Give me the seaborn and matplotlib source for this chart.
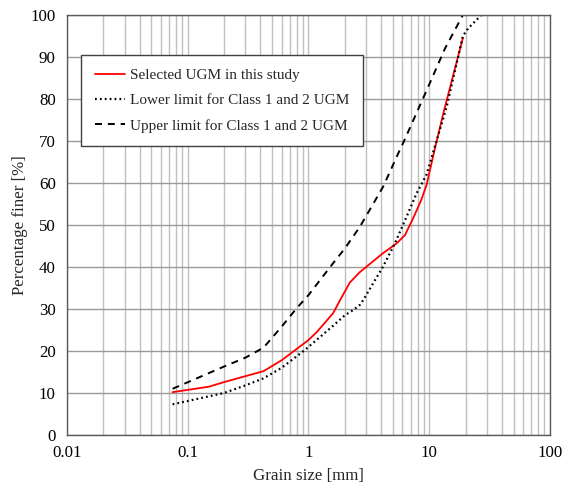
import matplotlib
matplotlib.use("Agg")
import matplotlib.pyplot as plt
import matplotlib.ticker as mticker
import numpy as np
import seaborn as sns

# Grain size distributions (grain size in mm, percentage finer in %)
ugm_size = [0.075, 0.15, 0.2, 0.3, 0.425, 0.6, 1.0, 1.18, 1.6, 1.82, 2.2, 2.67,
            3.03, 4.15, 5.36, 6.3, 7.36, 8.6, 9.5, 11.1, 13.2, 19.0]
ugm_pass = [10.2, 11.5, 12.6, 14.0, 15.2, 17.8, 22.6, 24.6, 29.0, 32.0, 36.3, 38.8,
            40.1, 43.3, 45.6, 47.6, 51.6, 56.0, 59.5, 68.0, 77.0, 94.5]

lower_size = [0.075, 0.2, 0.3, 0.425, 0.6, 0.93, 1.6, 2.0, 2.36, 2.67, 2.84, 3.43,
              4.15, 5.19, 6.5, 7.85, 9.5, 13.9, 19.0, 21.0, 24.0, 27.0]
lower_pass = [7.3, 10.0, 11.8, 13.5, 16.0, 20.2, 26.0, 28.5, 29.8, 31.0, 32.1, 36.1,
              40.1, 45.6, 52.0, 57.5, 62.0, 78.0, 95.0, 96.8, 98.5, 100.0]

upper_size = [0.075, 0.2, 0.3, 0.425, 0.6, 0.8, 1.0, 1.6, 2.0, 2.67, 4.15, 5.53,
              6.08, 9.5, 13.5, 19.0]
upper_pass = [11.0, 16.3, 18.4, 20.8, 25.8, 30.2, 33.3, 40.9, 44.4, 49.6, 59.1, 67.0,
              69.5, 82.0, 92.0, 100.0]

series_names = ["Selected UGM in this study",
                "Lower limit for Class 1 and 2 UGM",
                "Upper limit for Class 1 and 2 UGM"]

x_ticks = [0.01, 0.1, 1, 10, 100]
x_tick_labels = ["0.01", "0.1", "1", "10", "100"]
y_ticks = list(range(0, 101, 10))

sns.set_theme(style="white")
plt.rcParams["font.family"] = ["Liberation Serif", "DejaVu Serif"]

fig = plt.figure(figsize=(5.67, 4.88), dpi=100)
ax = fig.add_axes([0.118, 0.1086, 0.852, 0.8607])

# log grid: light verticals at every subdivision, darker horizontals
ax.set_xscale("log")
ax.set_xlim(0.01, 100)
ax.set_ylim(0, 100)
ax.xaxis.set_major_locator(mticker.FixedLocator(x_ticks))
ax.xaxis.set_major_formatter(mticker.FixedFormatter(x_tick_labels))
ax.xaxis.set_minor_locator(mticker.LogLocator(base=10, subs=np.arange(2, 10)))
ax.xaxis.set_minor_formatter(mticker.NullFormatter())
ax.set_yticks(y_ticks)
ax.grid(True, which="major", axis="x", color="#c0c0c0", linewidth=1.0)
ax.grid(True, which="minor", axis="x", color="#c0c0c0", linewidth=1.0)
ax.grid(True, which="major", axis="y", color="#9a9a9a", linewidth=1.0)
ax.set_axisbelow(True)

sns.lineplot(x=ugm_size, y=ugm_pass, ax=ax, color="#ff0000", linewidth=1.3,
             sort=False, estimator=None, label=series_names[0])
sns.lineplot(x=lower_size, y=lower_pass, ax=ax, color="black", linewidth=1.6,
             linestyle=(0, (0.8, 1.4)), sort=False, estimator=None,
             label=series_names[1])
sns.lineplot(x=upper_size, y=upper_pass, ax=ax, color="black", linewidth=1.4,
             linestyle=(0, (3.6, 3.0)), sort=False, estimator=None,
             label=series_names[2])

for side in ["left", "bottom", "right", "top"]:
    ax.spines[side].set_visible(True)
    ax.spines[side].set_color("#5a5a5a")
    ax.spines[side].set_linewidth(1.0)

ax.tick_params(axis="both", which="both", length=0, labelsize=12.2,
               colors="black")
ax.tick_params(axis="x", pad=7)
ax.tick_params(axis="y", pad=8)

ax.set_xlabel("Grain size [mm]", fontsize=12.2, labelpad=5)
ax.set_ylabel("Percentage finer [%]", fontsize=12.2, labelpad=2)

leg = ax.legend(loc="upper left", bbox_to_anchor=(0.029, 0.905),
                frameon=True, fancybox=False, shadow=False, fontsize=11,
                handlelength=2.0, handletextpad=0.3, borderpad=0.9,
                labelspacing=0.75, borderaxespad=0.0)
leg.get_frame().set_edgecolor("#404040")
leg.get_frame().set_linewidth(1.0)
leg.get_frame().set_facecolor("white")
leg.get_frame().set_alpha(1.0)

fig.savefig("out.png", dpi=100)
